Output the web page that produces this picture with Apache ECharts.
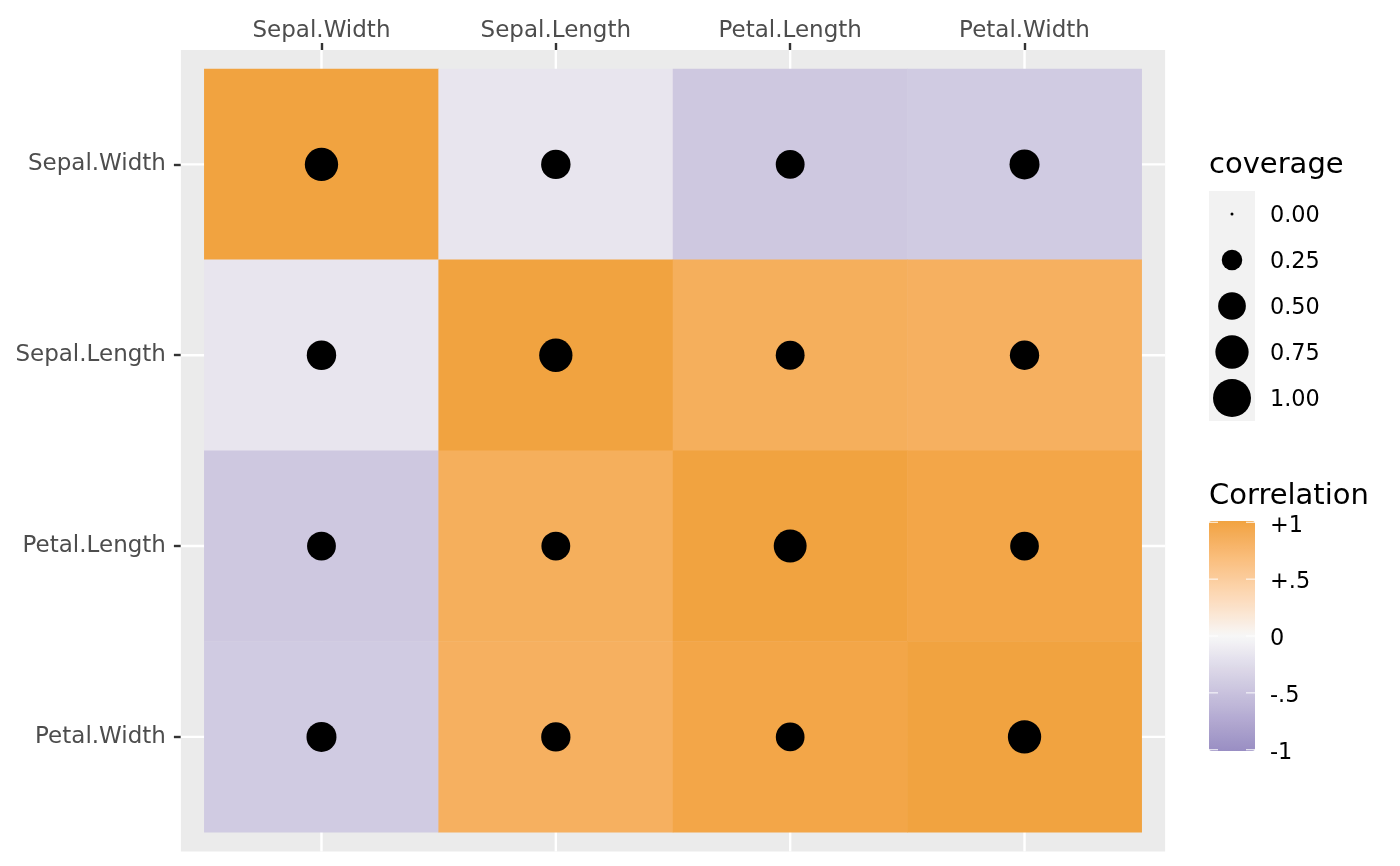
<!DOCTYPE html>
<html><head><meta charset="utf-8">
<script src="https://cdn.jsdelivr.net/npm/echarts@6/dist/echarts.min.js"></script>
<style>html,body{margin:0;padding:0;background:#fff}#c{width:1400px;height:866px}</style>
</head><body><div id="c"></div>
<script>
// ---- data ----
const variables = ['Sepal.Width', 'Sepal.Length', 'Petal.Length', 'Petal.Width'];
const correlation = [
  [1.000, -0.165, -0.438, -0.412],
  [-0.165, 1.000, 0.856, 0.832],
  [-0.438, 0.856, 1.000, 0.958],
  [-0.412, 0.832, 0.958, 1.000]
];
const coverage = [
  [0.75, 0.57, 0.545, 0.595],
  [0.57, 0.75, 0.545, 0.565],
  [0.545, 0.545, 0.73, 0.54],
  [0.595, 0.565, 0.54, 0.75]
];
const coverageBreaks = [0, 0.25, 0.5, 0.75, 1];
const coverageLabels = ['0.00', '0.25', '0.50', '0.75', '1.00'];
const correlationBreaks = [1, 0.5, 0, -0.5, -1];
const correlationLabels = ['+1', '+.5', '0', '-.5', '-1'];
const lowColor = '#998ec3', midColor = '#f7f7f7', highColor = '#f1a340';

// ---- colour scale (CIELAB interpolation, as ggplot does) ----
function toLin(c) { c /= 255; return c <= 0.04045 ? c / 12.92 : Math.pow((c + 0.055) / 1.055, 2.4); }
function fromLin(c) { const v = c <= 0.0031308 ? 12.92 * c : 1.055 * Math.pow(c, 1 / 2.4) - 0.055; return Math.max(0, Math.min(255, Math.round(v * 255))); }
function hexToLab(h) {
  const r = toLin(parseInt(h.substr(1, 2), 16)), g = toLin(parseInt(h.substr(3, 2), 16)), b = toLin(parseInt(h.substr(5, 2), 16));
  const X = (0.4124 * r + 0.3576 * g + 0.1805 * b) / 0.95047;
  const Y = (0.2126 * r + 0.7152 * g + 0.0722 * b);
  const Z = (0.0193 * r + 0.1192 * g + 0.9505 * b) / 1.08883;
  const f = t => t > 0.008856 ? Math.cbrt(t) : 7.787 * t + 16 / 116;
  const fx = f(X), fy = f(Y), fz = f(Z);
  return [116 * fy - 16, 500 * (fx - fy), 200 * (fy - fz)];
}
function labToHex(lab) {
  const fy = (lab[0] + 16) / 116, fx = fy + lab[1] / 500, fz = fy - lab[2] / 200;
  const fi = t => t * t * t > 0.008856 ? t * t * t : (t - 16 / 116) / 7.787;
  const X = fi(fx) * 0.95047, Y = fi(fy), Z = fi(fz) * 1.08883;
  const r = 3.2406 * X - 1.5372 * Y - 0.4986 * Z;
  const g = -0.9689 * X + 1.8758 * Y + 0.0415 * Z;
  const b = 0.0557 * X - 0.2040 * Y + 1.0570 * Z;
  return '#' + [r, g, b].map(c => fromLin(c).toString(16).padStart(2, '0')).join('');
}
const labLow = hexToLab(lowColor), labMid = hexToLab(midColor), labHigh = hexToLab(highColor);
function corrColor(v) {
  const end = v < 0 ? labLow : labHigh, t = Math.abs(v);
  return labToHex([0, 1, 2].map(k => labMid[k] + (end[k] - labMid[k]) * t));
}
const colorStops = [];
for (let k = 0; k <= 40; k++) colorStops.push(corrColor(-1 + k / 20));

// ---- build ----
const FONT = 'DejaVu Sans';
const sizeScale = v => 3 + 35 * Math.sqrt(v);

const heatData = [];
const dotData = [];
for (let i = 0; i < variables.length; i++) {
  for (let j = 0; j < variables.length; j++) {
    heatData.push([j, i, correlation[i][j]]);
    dotData.push([j, i, coverage[i][j]]);
  }
}

const grid = { left: 204.3, top: 69, width: 937.4, height: 763.3 };

// legend layout
const legX = 1209, keyW = 46, keyH = 46, covTop = 191;
const barTop = 521, barH = 230;
const graphics = [];
graphics.push({ type: 'text', x: legX, y: 165.3, style: { text: 'coverage', fontSize: 29, fontFamily: FONT, fill: '#000', verticalAlign: 'middle' } });
graphics.push({ type: 'rect', shape: { x: legX, y: covTop, width: keyW, height: keyH * coverageBreaks.length }, style: { fill: '#f2f2f2' } });
coverageBreaks.forEach((v, k) => {
  const cy = covTop + keyH / 2 + keyH * k;
  graphics.push({ type: 'circle', shape: { cx: legX + keyW / 2, cy: cy, r: sizeScale(v) / 2 }, style: { fill: '#000' } });
  graphics.push({ type: 'text', x: legX + 61, y: cy + 2, style: { text: coverageLabels[k], fontSize: 22.4, fontFamily: FONT, fill: '#000', verticalAlign: 'middle' } });
});
graphics.push({ type: 'text', x: legX, y: 496.3, style: { text: 'Correlation', fontSize: 29, fontFamily: FONT, fill: '#000', verticalAlign: 'middle' } });
correlationBreaks.forEach((v, k) => {
  const y = barTop + 1.3 + (1 - v) / 2 * (barH - 2.6);
  graphics.push({ type: 'line', z: 100, shape: { x1: legX, y1: y, x2: legX + 9, y2: y }, style: { stroke: '#ffffff', lineWidth: 1.2, opacity: 0.8 } });
  graphics.push({ type: 'line', z: 100, shape: { x1: legX + keyW - 9, y1: y, x2: legX + keyW, y2: y }, style: { stroke: '#ffffff', lineWidth: 1.2, opacity: 0.8 } });
  graphics.push({ type: 'text', x: legX + 61, y: y + 3.5, style: { text: correlationLabels[k], fontSize: 22.4, fontFamily: FONT, fill: '#000', verticalAlign: 'middle' } });
});

const chart = echarts.init(document.getElementById('c'), null, { renderer: 'canvas' });
chart.setOption({
  animation: false,
  backgroundColor: '#ffffff',
  grid: Object.assign({ containLabel: false }, grid),
  xAxis: {
    type: 'category', data: variables, position: 'top', offset: 19,
    axisLine: { show: false },
    axisTick: { show: true, alignWithLabel: true, length: 7, lineStyle: { color: '#333333', width: 2.4 } },
    axisLabel: { interval: 0, color: '#4d4d4d', fontSize: 23, fontFamily: FONT, margin: 7 },
    splitLine: { show: false }
  },
  yAxis: {
    type: 'category', data: variables, inverse: true, offset: 23.4,
    axisLine: { show: false },
    axisTick: { show: true, alignWithLabel: true, length: 7, lineStyle: { color: '#333333', width: 2.4 } },
    axisLabel: { interval: 0, color: '#4d4d4d', fontSize: 23, fontFamily: FONT, margin: 15, padding: [4, 0, 0, 0] },
    splitLine: { show: false }
  },
  visualMap: {
    type: 'continuous', min: -1, max: 1, seriesIndex: 1, dimension: 2,
    calculable: false, hoverLink: false, padding: 0,
    left: legX, top: barTop, itemWidth: keyW, itemHeight: barH,
    text: null, showLabel: false,
    inRange: { color: colorStops },
    textStyle: { color: 'transparent' }
  },
  graphic: graphics,
  series: [
    {
      type: 'custom', z: 1, silent: true, clip: false,
      data: [[0, 0]],
      renderItem: function (params, api) {
        const cs = params.coordSys;
        const band = api.size([1, 1]);
        const mx = band[0] * 0.1, my = band[1] * 0.1;
        const L = cs.x - mx, T = cs.y - my, W = cs.width + 2 * mx, H = cs.height + 2 * my;
        const children = [{ type: 'rect', shape: { x: L, y: T, width: W, height: H }, style: { fill: '#ebebeb' } }];
        for (let i = 0; i < variables.length; i++) {
          const px = api.coord([i, 0])[0];
          const py = api.coord([0, i])[1];
          children.push({ type: 'line', shape: { x1: px, y1: T, x2: px, y2: T + H }, style: { stroke: '#ffffff', lineWidth: 2.4 } });
          children.push({ type: 'line', shape: { x1: L, y1: py, x2: L + W, y2: py }, style: { stroke: '#ffffff', lineWidth: 2.4 } });
        }
        return { type: 'group', children: children };
      }
    },
    {
      type: 'heatmap', z: 2, data: heatData, silent: true,
      itemStyle: { borderWidth: 0 },
      emphasis: { disabled: true }
    },
    {
      type: 'scatter', z: 3, data: dotData, silent: true,
      symbol: 'circle',
      symbolSize: function (val) { return sizeScale(val[2]); },
      itemStyle: { color: '#000000', opacity: 1 },
      emphasis: { disabled: true }
    }
  ]
});
</script>
</body></html>
